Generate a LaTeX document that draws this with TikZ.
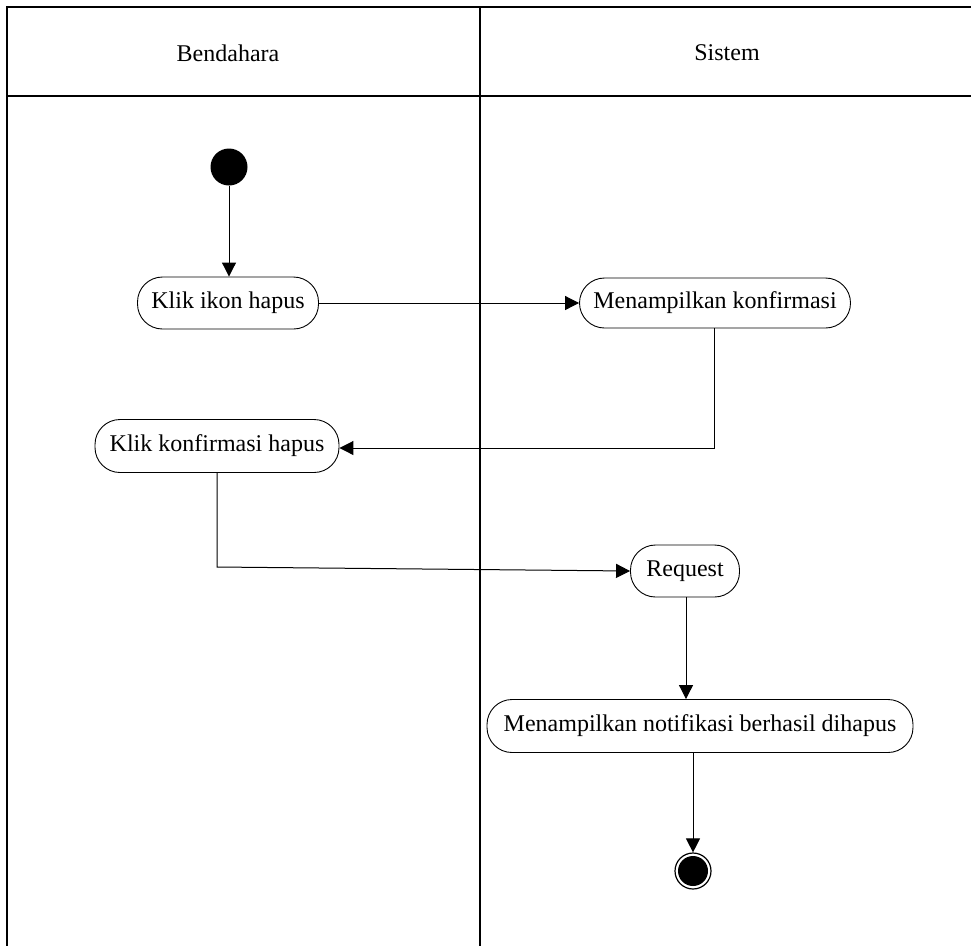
\documentclass[tikz,border=0pt]{standalone}
\usepackage{fontspec}
\setmainfont{Liberation Serif}
\usetikzlibrary{arrows.meta}
\begin{document}
\begin{tikzpicture}[x=1pt,y=-1pt,
  lane/.style={line width=2pt,draw=black},
  act/.style={draw,line width=0.9pt,rounded corners=25pt,inner sep=0pt,font=\fontsize{24}{28}\selectfont},
  flow/.style={line width=1pt,-{Triangle[length=14pt,width=14pt]}},
  lbl/.style={font=\fontsize{24}{28}\selectfont}]
\useasboundingbox (0,0) rectangle (971,946);
% swimlanes
\draw[lane] (971,7) -- (7,7) -- (7,946);
\draw[lane] (7,96) -- (971,96);
\draw[lane] (480,7) -- (480,946);
\node[lbl] (hb) at (228,53) {Bendahara};
\node[lbl] (hs) at (727,53) {Sistem};
% nodes
\node[circle,fill=black,minimum size=37pt,inner sep=0pt] (start) at (229,167) {};
\node[act,minimum width=181pt,minimum height=52pt] (a1) at (228,303) {Klik ikon hapus};
\node[act,minimum width=271pt,minimum height=50pt] (a2) at (715,303) {Menampilkan konfirmasi};
\node[act,minimum width=244pt,minimum height=53pt] (a3) at (217,446) {Klik konfirmasi hapus};
\node[act,minimum width=109pt,minimum height=52pt] (a4) at (685,571) {Request};
\node[act,minimum width=426pt,minimum height=53pt] (a5) at (700,726) {Menampilkan notifikasi berhasil dihapus};
\node[circle,draw=black,line width=1.2pt,minimum size=36pt,inner sep=0pt] (end) at (693,871) {};
\node[circle,fill=black,minimum size=30pt,inner sep=0pt] (endin) at (end.center) {};
\coordinate (c1) at (714,448);
\coordinate (c2) at (217,567);
% connectors
\draw[flow] (start) -- (a1.north -| start);
\draw[flow] (a1) -- (a2);
\draw[flow] (a2.south -| c1) -- (c1) -- (a3.east |- c1);
\draw[flow] (a3.south -| c2) -- (c2) -- (a4.west);
\draw[flow] (a4.south -| 686,0) -- (a5.north -| 686,0);
\draw[flow] (a5.south -| end) -- (end.north);
\end{tikzpicture}
\end{document}
